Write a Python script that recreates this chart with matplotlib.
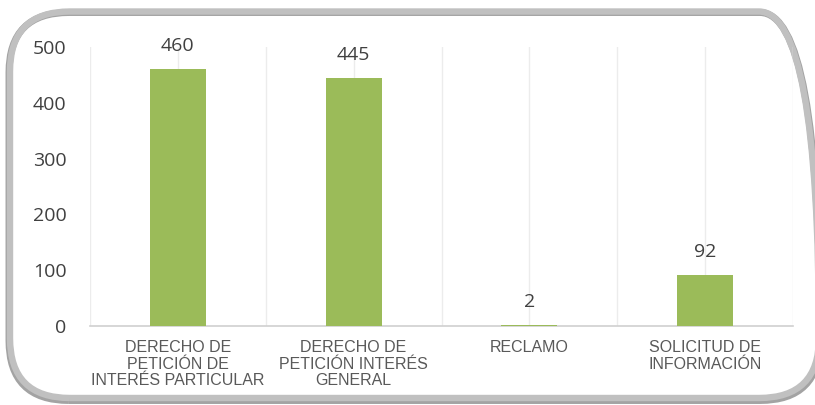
import matplotlib
matplotlib.use("Agg")
import matplotlib.pyplot as plt
from matplotlib.patches import FancyBboxPatch

categories = ["DERECHO DE\nPETICIÓN DE\nINTERÉS PARTICULAR",
              "DERECHO DE\nPETICIÓN INTERÉS\nGENERAL",
              "RECLAMO",
              "SOLICITUD DE\nINFORMACIÓN"]
values = [460, 445, 2, 92]
yticks = [0, 100, 200, 300, 400, 500]

W, H = 815, 405
fig = plt.figure(figsize=(W / 100, H / 100), dpi=100)
fig.patch.set_facecolor("white")

# rounded frame with shadow (figure coordinates, built from pixel sizes)
def frame_patch(x0, y0, w, h, color, lw, z):
    return FancyBboxPatch((x0 / W, y0 / H), w / W, h / H,
                          boxstyle="round,pad=0,rounding_size=%f" % (60 / W),
                          mutation_aspect=W / H,
                          transform=fig.transFigure, facecolor="none",
                          edgecolor=color, linewidth=lw, zorder=z,
                          clip_on=False)

fig.patches.append(frame_patch(9, 4.5, 811, 388, "#a3a3a3", 5, 0))
fig.patches.append(frame_patch(10, 7, 809, 386.5, "#c0c0c0", 4.6, 1))

ax = fig.add_axes([90 / W, 1 - 326 / H, 703 / W, 279 / H])
ax.set_zorder(5)
ax.set_facecolor("none")
x = list(range(len(categories)))
ax.bar(x, values, width=0.32, color="#9bbb59", zorder=3)
ax.set_xlim(-0.5, len(categories) - 0.5)
ax.set_ylim(0, 500)
ax.set_yticks(yticks)
ax.set_yticklabels([str(v) for v in yticks], fontfamily="Open Sans",
                   fontsize=14, color="#404040")
ax.set_xticks(x)
ax.set_xticklabels(categories, fontfamily="Liberation Sans", fontsize=11.5,
                   color="#595959", linespacing=1.15)
ax.set_xticks([i - 0.5 for i in range(len(categories) + 1)], minor=True)
ax.tick_params(axis="both", which="both", length=0)
ax.tick_params(axis="y", pad=17)
ax.tick_params(axis="x", pad=10)
ax.grid(True, axis="x", which="both", color="#ececec", linewidth=1, zorder=0)
for s in ["top", "right", "left"]:
    ax.spines[s].set_visible(False)
ax.spines["bottom"].set_color("#d0d0d0")
ax.spines["bottom"].set_linewidth(1.2)
for xi, v in zip(x, values):
    ax.annotate(str(v), (xi, v), xytext=(0, 10), textcoords="offset points",
                ha="center", va="bottom", fontfamily="Open Sans",
                fontsize=14, color="#404040")

fig.savefig("out.png", dpi=100)
